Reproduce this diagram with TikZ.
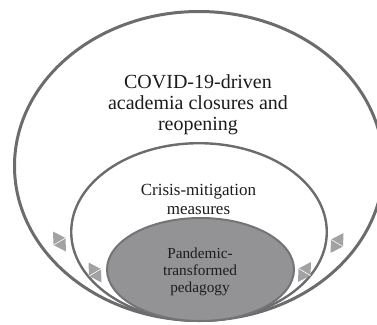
\documentclass[tikz,border=0pt]{standalone}
\usepackage{fontspec}
\setmainfont{Liberation Serif}
\definecolor{ringgray}{HTML}{6C6C6E}
\definecolor{innerfill}{HTML}{939396}
\definecolor{innerline}{HTML}{747477}
\definecolor{arrowfill}{HTML}{A2A2A5}
\definecolor{txt}{HTML}{1C1C1C}
\begin{document}
\begin{tikzpicture}[x=1pt,y=-1pt,
  ring/.style={draw=ringgray},
  label/.style={align=center,inner sep=0pt,text=txt},
  dblarrow/.style={fill=arrowfill,draw=none}]
\useasboundingbox (0,0) rectangle (377,324);
\clip (0,0) rectangle (377,324);
% rings
\draw[ring,line width=3pt] (199,166) ellipse [x radius=184.5, y radius=154.5];
\draw[ring,line width=2.4pt] (199,232) ellipse [x radius=127.8, y radius=88.8];
\draw[draw=innerline,fill=innerfill,line width=2pt] (200.5,269.5) ellipse [x radius=93.5, y radius=51.5];
% texts
\node[label,font=\fontsize{20}{21}\selectfont] (outer) at (198,104.5)
  {COVID-19-driven\\academia closures and\\reopening};
\node[label,font=\fontsize{17}{19}\selectfont] (middle) at (198.5,199)
  {Crisis-mitigation\\measures};
\node[label,font=\fontsize{15.3}{17}\selectfont] (inner) at (200,271.5)
  {Pandemic-\\transformed\\pedagogy};
% double arrows
\newcommand{\dblarr}[3]{%
  \begin{scope}[shift={(#1,#2)},xscale=#3]
    \fill[dblarrow] (-6.5,-10) -- (6,-3.5) -- (6.5,10) -- (-6,3.5) -- cycle;
    \draw[white,line width=0.6pt] (-6,3.5) -- (6,-3.5);
  \end{scope}}
\dblarr{59.5}{241.5}{1}
\dblarr{95}{272.5}{1}
\dblarr{337}{243}{-1}
\dblarr{304.5}{272}{-1}
\end{tikzpicture}
\end{document}
